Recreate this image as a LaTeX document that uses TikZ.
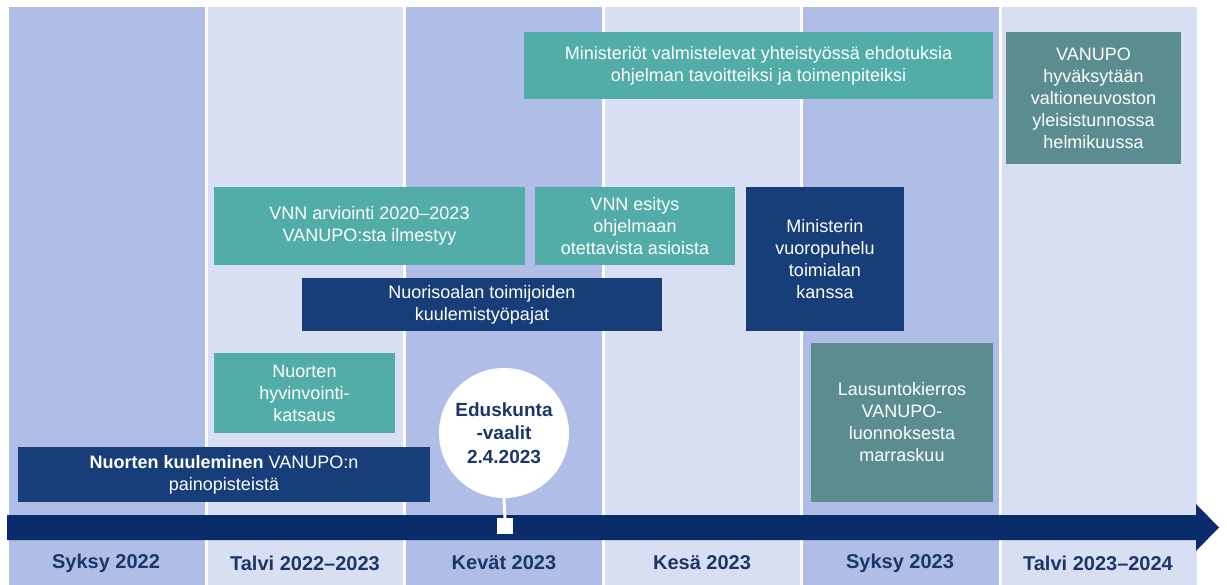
\documentclass[tikz,border=0pt]{standalone}
\usepackage{fontspec}
\setmainfont{Liberation Sans}
\definecolor{colDark}{HTML}{AFBDE7}
\definecolor{colLight}{HTML}{D9DFF3}
\definecolor{tealbox}{HTML}{52ADA8}
\definecolor{dtealbox}{HTML}{5B8D90}
\definecolor{navybox}{HTML}{173E79}
\definecolor{arrownavy}{HTML}{0A2C6A}
\definecolor{labelnavy}{HTML}{1B3768}
\begin{document}
\begin{tikzpicture}[x=1pt,y=-1pt,
  colbg/.style={fill=#1,draw=none},
  box/.style={fill=#1,draw=none,text=white,align=center,inner sep=0pt,
    font=\fontsize{18}{22}\selectfont},
  season/.style={text=labelnavy,font=\bfseries\fontsize{20}{24}\selectfont,inner sep=0pt}
]
\useasboundingbox[fill=white] (0,0) rectangle (1227,585);
% columns
\foreach \i/\c in {0/colDark,1/colLight,2/colDark,3/colLight,4/colDark,5/colLight}{
  \fill[\c] ({9+198.5*\i},7) rectangle ({9+198.5*\i+195.5},585);
}
% timeline arrow
\fill[arrownavy] (7,515) -- (1196,515) -- (1196,504) -- (1219,527.5) -- (1196,551) -- (1196,540) -- (7,540) -- cycle;
% season labels
\node[season] (s1) at (106,563) {Syksy 2022};
\node[season] (s2) at (305,563) {Talvi 2022–2023};
\node[season] (s3) at (504,563) {Kevät 2023};
\node[season] (s4) at (702,563) {Kesä 2023};
\node[season] (s5) at (900,563) {Syksy 2023};
\node[season] (s6) at (1098,563) {Talvi 2023–2024};
% boxes
\node[box=tealbox,minimum width=469,minimum height=67] (b1) at (758.5,65.5)
  {Ministeriöt valmistelevat yhteistyössä ehdotuksia\\ohjelman tavoitteiksi ja toimenpiteiksi};
\node[box=dtealbox,minimum width=175,minimum height=132] (b2) at (1093.5,98)
  {VANUPO\\hyväksytään\\valtioneuvoston\\yleisistunnossa\\helmikuussa};
\node[box=tealbox,minimum width=311,minimum height=78] (b3) at (369.5,226)
  {VNN arviointi 2020–2023\\VANUPO:sta ilmestyy};
\node[box=tealbox,minimum width=200,minimum height=78] (b4) at (635,226)
  {VNN esitys\\ohjelmaan\\otettavista asioista};
\node[box=navybox,minimum width=158,minimum height=144] (b5) at (825,259)
  {Ministerin\\vuoropuhelu\\toimialan\\kanssa};
\node[box=navybox,minimum width=360,minimum height=53] (b6) at (482,304.5)
  {Nuorisoalan toimijoiden\\kuulemistyöpajat};
\node[box=tealbox,minimum width=181,minimum height=80] (b7) at (304.5,393)
  {Nuorten\\hyvinvointi-\\katsaus};
\node[box=navybox,minimum width=412,minimum height=55] (b8) at (224,474.5)
  {\textbf{Nuorten kuuleminen} VANUPO:n\\painopisteistä};
\node[box=dtealbox,minimum width=182,minimum height=159] (b9) at (902,422.5)
  {Lausuntokierros\\VANUPO-\\luonnoksesta\\marraskuu};
% election marker
\node[circle,fill=white,minimum size=130,inner sep=0pt,align=center,text=labelnavy,
  font=\bfseries\fontsize{19}{23.5}\selectfont] (vaalit) at (504,433)
  {Eduskunta\\-vaalit\\2.4.2023};
\node[fill=white,minimum size=16,inner sep=0pt] (sq) at (505,526) {};
\draw[white,line width=3] (vaalit.south) -- (sq.north);
\end{tikzpicture}
\end{document}
